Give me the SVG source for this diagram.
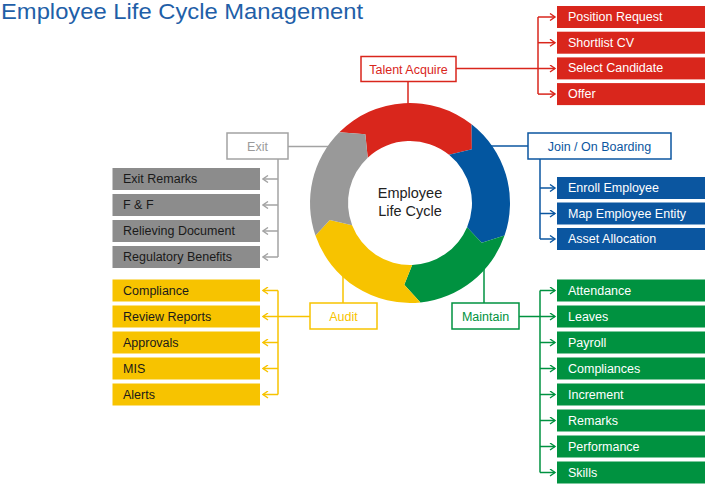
<svg xmlns="http://www.w3.org/2000/svg" width="705" height="484" viewBox="0 0 705 484">
<defs>
<style>
text{font-family:"Liberation Sans",Arial,sans-serif}
.t{font-size:12.5px}
.w{fill:#fff}
.k{fill:#1a1a1a}
.c{fill:none;stroke-width:1.5}
.lb{fill:#fff;stroke-width:1.5}
.cr{stroke:#d9261c}.cb{stroke:#0b56a0}.cg{stroke:#009240}.cy{stroke:#f7c300}.cx{stroke:#a3a3a3}
.fr{fill:#d9261c}.fb{fill:#0b56a0}.fg{fill:#009240}.fy{fill:#f7c300}.fx{fill:#8c8c8c}
</style>
<marker id="mr" viewBox="0 0 8 8" markerWidth="8" markerHeight="8" refX="6.5" refY="4" orient="auto" markerUnits="userSpaceOnUse"><path d="M1.5,0.5 L6.5,4 L1.5,7.5" fill="none" stroke="#d9261c" stroke-width="1.4"/></marker>
<marker id="mb" viewBox="0 0 8 8" markerWidth="8" markerHeight="8" refX="6.5" refY="4" orient="auto" markerUnits="userSpaceOnUse"><path d="M1.5,0.5 L6.5,4 L1.5,7.5" fill="none" stroke="#0b56a0" stroke-width="1.4"/></marker>
<marker id="mg" viewBox="0 0 8 8" markerWidth="8" markerHeight="8" refX="6.5" refY="4" orient="auto" markerUnits="userSpaceOnUse"><path d="M1.5,0.5 L6.5,4 L1.5,7.5" fill="none" stroke="#009240" stroke-width="1.4"/></marker>
<marker id="my" viewBox="0 0 8 8" markerWidth="8" markerHeight="8" refX="6.5" refY="4" orient="auto" markerUnits="userSpaceOnUse"><path d="M1.5,0.5 L6.5,4 L1.5,7.5" fill="none" stroke="#f7c300" stroke-width="1.4"/></marker>
<marker id="mx" viewBox="0 0 8 8" markerWidth="8" markerHeight="8" refX="6.5" refY="4" orient="auto" markerUnits="userSpaceOnUse"><path d="M1.5,0.5 L6.5,4 L1.5,7.5" fill="none" stroke="#a3a3a3" stroke-width="1.4"/></marker>
</defs>
<rect width="705" height="484" fill="#fff"/>
<text x="1" y="19" font-size="22" fill="#1f5fa8" textLength="362" lengthAdjust="spacingAndGlyphs">Employee Life Cycle Management</text>

<g id="connectors">
<!-- Talent Acquire -->
<path class="c cr" d="M408,82 V104"/>
<path class="c cr" d="M456,68.5 H555" marker-end="url(#mr)"/>
<path class="c cr" d="M538,17 V94.1"/>
<path class="c cr" d="M538,17 H555" marker-end="url(#mr)"/>
<path class="c cr" d="M538,42.7 H555" marker-end="url(#mr)"/>
<path class="c cr" d="M538,94.1 H555" marker-end="url(#mr)"/>
<!-- Join -->
<path class="c cb" d="M488,146 H528"/>
<path class="c cb" d="M540,159 V239"/>
<path class="c cb" d="M540,188 H555" marker-end="url(#mb)"/>
<path class="c cb" d="M540,213.5 H555" marker-end="url(#mb)"/>
<path class="c cb" d="M540,239 H555" marker-end="url(#mb)"/>
<!-- Maintain -->
<path class="c cg" d="M484,266 V303"/>
<path class="c cg" d="M519,316.5 H555" marker-end="url(#mg)"/>
<path class="c cg" d="M540,290.5 V472.5"/>
<path class="c cg" d="M540,290.5 H555" marker-end="url(#mg)"/>
<path class="c cg" d="M540,342.5 H555" marker-end="url(#mg)"/>
<path class="c cg" d="M540,368.5 H555" marker-end="url(#mg)"/>
<path class="c cg" d="M540,394.5 H555" marker-end="url(#mg)"/>
<path class="c cg" d="M540,420.5 H555" marker-end="url(#mg)"/>
<path class="c cg" d="M540,446.5 H555" marker-end="url(#mg)"/>
<path class="c cg" d="M540,472.5 H555" marker-end="url(#mg)"/>
<!-- Audit -->
<path class="c cy" d="M343,272 V303"/>
<path class="c cy" d="M310,316.5 H263" marker-end="url(#my)"/>
<path class="c cy" d="M278,290.5 V394.5"/>
<path class="c cy" d="M278,290.5 H263" marker-end="url(#my)"/>
<path class="c cy" d="M278,342.5 H263" marker-end="url(#my)"/>
<path class="c cy" d="M278,368.5 H263" marker-end="url(#my)"/>
<path class="c cy" d="M278,394.5 H263" marker-end="url(#my)"/>
<!-- Exit -->
<path class="c cx" d="M288,146.5 H332"/>
<path class="c cx" d="M278,159 V257"/>
<path class="c cx" d="M278,179 H263" marker-end="url(#mx)"/>
<path class="c cx" d="M278,205 H263" marker-end="url(#mx)"/>
<path class="c cx" d="M278,231 H263" marker-end="url(#mx)"/>
<path class="c cx" d="M278,257 H263" marker-end="url(#mx)"/>
</g>

<g id="ring">
<path fill="#d9261c" d="M339.29,132.29 A100,100 0 0 1 471.57,124.20 L471.89,149.20 L449.02,154.82 A62,62 0 0 0 367.72,157.65 L365.34,134.23 Z"/>
<path fill="#0356a0" d="M471.57,124.20 A100,100 0 0 1 504.55,235.56 L481.72,242.75 L467.07,227.22 A62,62 0 0 0 449.02,154.82 L471.89,149.20 Z"/>
<path fill="#009240" d="M504.55,235.56 A100,100 0 0 1 420.45,302.45 L404.28,284.80 L412.16,264.96 A62,62 0 0 0 467.07,227.22 L481.72,242.75 Z"/>
<path fill="#f7c300" d="M420.45,302.45 A100,100 0 0 1 315.45,235.56 L329.79,220.05 L352.12,225.22 A62,62 0 0 0 412.16,264.96 L404.28,284.80 Z"/>
<path fill="#999999" d="M315.45,235.56 A100,100 0 0 1 339.29,132.29 L365.34,134.23 L367.72,157.65 A62,62 0 0 0 352.12,225.22 L329.79,220.05 Z"/>
<text x="410" y="198" font-size="14.5" fill="#222" text-anchor="middle">Employee</text>
<text x="410" y="216" font-size="14.5" fill="#222" text-anchor="middle">Life Cycle</text>
</g>

<g id="talent-acquire">
<rect class="lb cr" x="361" y="56.5" width="95" height="25"/>
<text class="t" x="408.5" y="73.5" text-anchor="middle" fill="#d9261c">Talent Acquire</text>
</g>
<g id="position-request"><rect class="fr" x="557" y="6" width="148" height="22"/><text class="t w" x="568" y="21">Position Request</text></g>
<g id="shortlist-cv"><rect class="fr" x="557" y="31.7" width="148" height="22"/><text class="t w" x="568" y="46.7">Shortlist CV</text></g>
<g id="select-candidate"><rect class="fr" x="557" y="57.4" width="148" height="22"/><text class="t w" x="568" y="72.4">Select Candidate</text></g>
<g id="offer"><rect class="fr" x="557" y="83.1" width="148" height="22"/><text class="t w" x="568" y="98.1">Offer</text></g>

<g id="join-onboarding">
<rect class="lb cb" x="528" y="133" width="143" height="26"/>
<text class="t" x="599.5" y="150.5" text-anchor="middle" fill="#0b56a0">Join / On Boarding</text>
</g>
<g id="enroll-employee"><rect class="fb" x="557" y="177" width="148" height="22"/><text class="t w" x="568" y="192">Enroll Employee</text></g>
<g id="map-employee-entity"><rect class="fb" x="557" y="202.5" width="148" height="22"/><text class="t w" x="568" y="217.5">Map Employee Entity</text></g>
<g id="asset-allocation"><rect class="fb" x="557" y="228" width="148" height="22"/><text class="t w" x="568" y="243">Asset Allocation</text></g>

<g id="maintain">
<rect class="lb cg" x="452" y="303" width="67" height="26"/>
<text class="t" x="485.5" y="320.5" text-anchor="middle" fill="#009240">Maintain</text>
</g>
<g id="attendance"><rect class="fg" x="557" y="279.5" width="148" height="22"/><text class="t w" x="568" y="294.5">Attendance</text></g>
<g id="leaves"><rect class="fg" x="557" y="305.5" width="148" height="22"/><text class="t w" x="568" y="320.5">Leaves</text></g>
<g id="payroll"><rect class="fg" x="557" y="331.5" width="148" height="22"/><text class="t w" x="568" y="346.5">Payroll</text></g>
<g id="compliances"><rect class="fg" x="557" y="357.5" width="148" height="22"/><text class="t w" x="568" y="372.5">Compliances</text></g>
<g id="increment"><rect class="fg" x="557" y="383.5" width="148" height="22"/><text class="t w" x="568" y="398.5">Increment</text></g>
<g id="remarks"><rect class="fg" x="557" y="409.5" width="148" height="22"/><text class="t w" x="568" y="424.5">Remarks</text></g>
<g id="performance"><rect class="fg" x="557" y="435.5" width="148" height="22"/><text class="t w" x="568" y="450.5">Performance</text></g>
<g id="skills"><rect class="fg" x="557" y="461.5" width="148" height="22"/><text class="t w" x="568" y="476.5">Skills</text></g>

<g id="audit">
<rect class="lb cy" x="310" y="303" width="67" height="26"/>
<text class="t" x="343.5" y="320.5" text-anchor="middle" fill="#f7c300">Audit</text>
</g>
<g id="compliance"><rect class="fy" x="112.5" y="279.5" width="147.5" height="22"/><text class="t k" x="123" y="294.5">Compliance</text></g>
<g id="review-reports"><rect class="fy" x="112.5" y="305.5" width="147.5" height="22"/><text class="t k" x="123" y="320.5">Review Reports</text></g>
<g id="approvals"><rect class="fy" x="112.5" y="331.5" width="147.5" height="22"/><text class="t k" x="123" y="346.5">Approvals</text></g>
<g id="mis"><rect class="fy" x="112.5" y="357.5" width="147.5" height="22"/><text class="t k" x="123" y="372.5">MIS</text></g>
<g id="alerts"><rect class="fy" x="112.5" y="383.5" width="147.5" height="22"/><text class="t k" x="123" y="398.5">Alerts</text></g>

<g id="exit">
<rect class="lb cx" x="227" y="133" width="61" height="26"/>
<text class="t" x="257.5" y="150.5" text-anchor="middle" fill="#9a9a9a">Exit</text>
</g>
<g id="exit-remarks"><rect class="fx" x="112.5" y="168" width="147.5" height="22"/><text class="t k" x="123" y="183">Exit Remarks</text></g>
<g id="f-and-f"><rect class="fx" x="112.5" y="194" width="147.5" height="22"/><text class="t k" x="123" y="209">F &amp; F</text></g>
<g id="relieving-document"><rect class="fx" x="112.5" y="220" width="147.5" height="22"/><text class="t k" x="123" y="235">Relieving Document</text></g>
<g id="regulatory-benefits"><rect class="fx" x="112.5" y="246" width="147.5" height="22"/><text class="t k" x="123" y="261">Regulatory Benefits</text></g>
</svg>
